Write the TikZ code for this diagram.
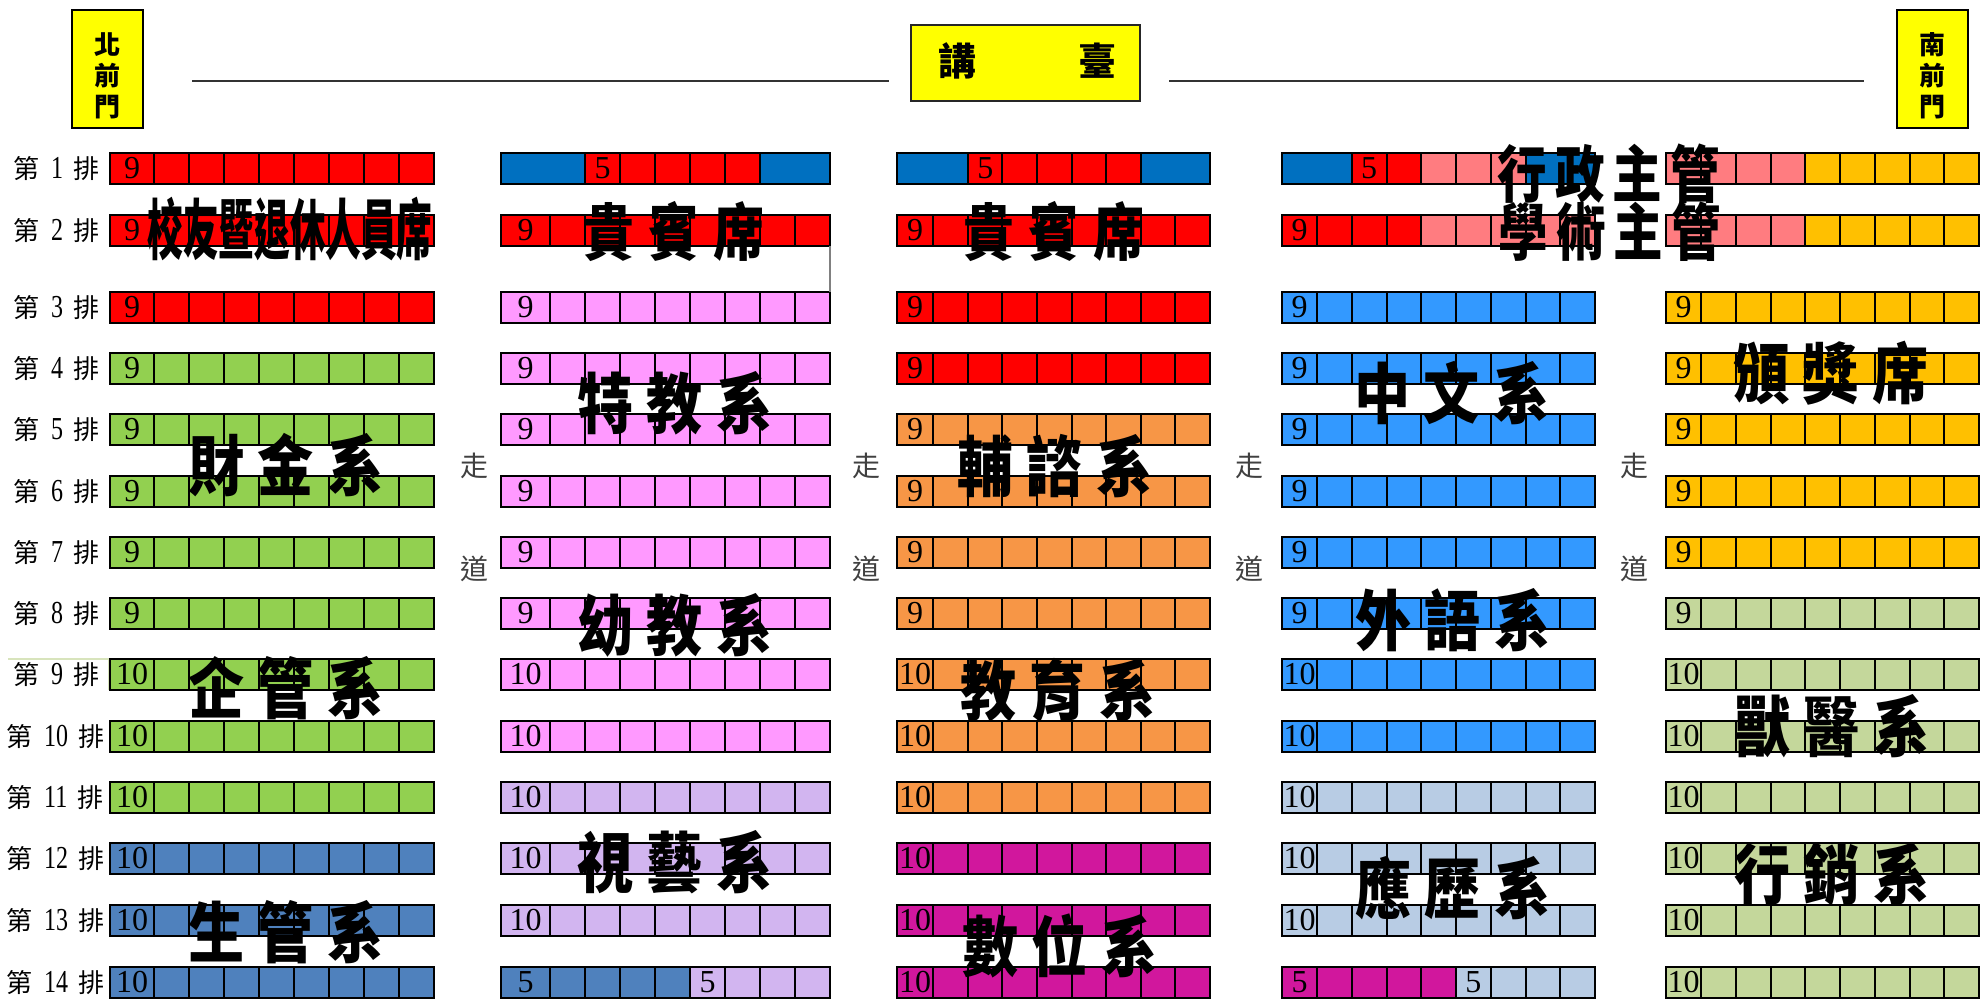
\documentclass[tikz,border=0pt]{standalone}
\usepackage{fontspec}
\usepackage{graphicx}
\setmainfont{Liberation Serif}
\newfontfamily\cjk{Noto Sans CJK TC}
\definecolor{cRed}{HTML}{FF0000}
\definecolor{cBlue}{HTML}{0070C0}
\definecolor{cGreen}{HTML}{92D050}
\definecolor{cPink}{HTML}{FF99FF}
\definecolor{cOrange}{HTML}{F79646}
\definecolor{cLBlue}{HTML}{3399FF}
\definecolor{cGold}{HTML}{FFC000}
\definecolor{cOlive}{HTML}{C4D79B}
\definecolor{cLav}{HTML}{D2B5F0}
\definecolor{cSteel}{HTML}{4F81BD}
\definecolor{cMag}{HTML}{D1179D}
\definecolor{cPale}{HTML}{B8CCE4}
\definecolor{cSalmon}{HTML}{FF7C80}
\definecolor{cYellow}{HTML}{FFFF00}
\definecolor{cArt}{HTML}{D8E4BC}
\tikzset{
 rowframe/.style={draw=black, line width=2.6pt, fill=none, inner sep=0pt, outer sep=0pt},
 divline/.style={draw=black, line width=2pt},
 dig/.style={inner sep=0pt, font=\fontsize{32}{32}\selectfont},
 rowlab/.style={inner sep=0pt, anchor=west, font=\fontsize{26}{26}\selectfont},
 aisle/.style={inner sep=0pt, text=black!75, font=\cjk\fontsize{28}{28}\selectfont},
 bigtext/.style={inner sep=0pt, text=black},
 doorbox/.style={draw=black, line width=2pt, fill=cYellow, minimum width=71, minimum height=118, inner sep=0pt},
 doortxt/.style={inner sep=0pt, align=center, font=\cjk\bfseries\fontsize{26}{31}\selectfont},
 topline/.style={draw=black!80, line width=2pt},
}
\newcommand\bigtxt[3]{\scalebox{#1}[1]{\cjk\bfseries\fontsize{#2}{#2}\selectfont #3}}
\newcommand\threech[3]{#1\hspace{16pt}#2\hspace{16pt}#3}
\newcommand\seatrow[7]{%
  \foreach \cc [count=\i] in {#6} {
    \pgfmathsetmacro\xa{#2+(\i>1)*(#3+(\i-2)*#4)}
    \pgfmathsetmacro\xb{#2+#3+(\i-1)*#4}
    \fill[fill=\cc] (\xa,#5) rectangle (\xb,#5+31);
  }
  \foreach \i in {#7} {
    \pgfmathsetmacro\xb{#2+#3+(\i-1)*#4}
    \draw[divline] (\xb,#5) -- (\xb,#5+31);
  }
  \node[rowframe, minimum width={#3+8*#4}, minimum height=31, anchor=north west] (#1) at (#2,#5) {};
}
\begin{document}
\begin{tikzpicture}[x=1pt,y=-1pt]
\useasboundingbox (0,0) rectangle (1982,1002);
% doors, lectern, lines
\node[doorbox] (north) at (107.5,69) {};
\node[doortxt] (northtxt) at (107.5,76) {北\\前\\門};
\node[doorbox] (south) at (1932,69) {};
\node[doortxt] (southtxt) at (1932,76) {南\\前\\門};
\node[draw=black!85, line width=1.6pt, fill=cYellow, minimum width=229, minimum height=76, inner sep=0pt] (lectern) at (1025.5,63) {};
\node[inner sep=0pt, font=\cjk\bfseries\fontsize{38}{38}\selectfont] (lecterntxt) at (1027,61) {講\hspace{102pt}臺};
\coordinate (la) at (192,81); \coordinate (lb) at (889,81);
\coordinate (lc) at (1169,81); \coordinate (ld) at (1864,81);
\draw[topline] (la) -- (lb);
\draw[topline] (lc) -- (ld);
% row labels
\foreach \r/\y/\x in {1/153/13,2/215/13,3/292/13,4/353/13,5/414/13,6/476/13,7/537/13,8/598/13,9/659/13,10/721/6,11/782/6,12/843/6,13/905/6,14/967/6}
  \node[rowlab] (lab\r) at (\x,\y+15.5) {{\cjk 第}\hspace{12pt}\scalebox{0.75}[1]{\fontsize{32}{32}\selectfont\r}\hspace{10pt}{\cjk 排}};
\draw[cArt, line width=2pt] (8,659) -- (109,659) -- (109,690);
% aisles
\foreach \x [count=\k] in {474,866,1249,1634} {
  \node[aisle] (walk\k) at (\x,466) {走};
  \node[aisle] (way\k) at (\x,569) {道};
}
% block 1
\foreach \r/\y/\cl/\n in {1/153/cRed/9,2/215/cRed/9,3/292/cRed/9,4/353/cGreen/9,5/414/cGreen/9,6/476/cGreen/9,7/537/cGreen/9,8/598/cGreen/9,9/659/cGreen/10,10/721/cGreen/10,11/782/cGreen/10,12/843/cSteel/10,13/905/cSteel/10,14/967/cSteel/10} {
  \seatrow{b1r\r}{110}{44}{35}{\y}{\cl,\cl,\cl,\cl,\cl,\cl,\cl,\cl,\cl}{1,...,8}
  \node[dig] (b1n\r) at (132,\y+15.5) {\n};
}
% block 2
\seatrow{b2r1}{501}{49}{35}{153}{cBlue,cBlue,cRed,cRed,cRed,cRed,cRed,cBlue,cBlue}{2,3,4,5,6,7}
\node[dig] (b2n1) at (602.5,168.5) {5};
\foreach \r/\y/\cl/\n in {2/215/cRed/9,3/292/cPink/9,4/353/cPink/9,5/414/cPink/9,6/476/cPink/9,7/537/cPink/9,8/598/cPink/9,9/659/cPink/10,10/721/cPink/10,11/782/cLav/10,12/843/cLav/10,13/905/cLav/10} {
  \seatrow{b2r\r}{501}{49}{35}{\y}{\cl,\cl,\cl,\cl,\cl,\cl,\cl,\cl,\cl}{1,...,8}
  \node[dig] (b2n\r) at (525.5,\y+15.5) {\n};
}
\seatrow{b2r14}{501}{49}{35}{967}{cSteel,cSteel,cSteel,cSteel,cSteel,cLav,cLav,cLav,cLav}{1,...,8}
\node[dig] (b2n14) at (525.5,982.5) {5};
\node[dig] (b2m14) at (707.5,982.5) {5};
\draw[gray, line width=1.5pt] (b2r2.south east) -- (b2r3.north east);
% block 3
\seatrow{b3r1}{897}{36}{34.625}{153}{cBlue,cBlue,cRed,cRed,cRed,cRed,cRed,cBlue,cBlue}{2,3,4,5,6,7}
\node[dig] (b3n1) at (985.3,168.5) {5};
\foreach \r/\y/\cl/\n in {2/215/cRed/9,3/292/cRed/9,4/353/cRed/9,5/414/cOrange/9,6/476/cOrange/9,7/537/cOrange/9,8/598/cOrange/9,9/659/cOrange/10,10/721/cOrange/10,11/782/cOrange/10,12/843/cMag/10,13/905/cMag/10,14/967/cMag/10} {
  \seatrow{b3r\r}{897}{36}{34.625}{\y}{\cl,\cl,\cl,\cl,\cl,\cl,\cl,\cl,\cl}{1,...,8}
  \node[dig] (b3n\r) at (915,\y+15.5) {\n};
}
% block 4
\seatrow{b4r1}{1282}{35}{34.75}{153}{cBlue,cBlue,cRed,cRed,cSalmon,cSalmon,cSalmon,cBlue,cBlue}{2,3,4,5,6,7}
\node[dig] (b4n1) at (1369.1,168.5) {5};
\seatrow{b4r2}{1282}{35}{34.75}{215}{cRed,cRed,cRed,cRed,cSalmon,cSalmon,cSalmon,cSalmon,cSalmon}{1,...,8}
\node[dig] (b4n2) at (1299.5,230.5) {9};
\foreach \r/\y/\cl/\n in {3/292/cLBlue/9,4/353/cLBlue/9,5/414/cLBlue/9,6/476/cLBlue/9,7/537/cLBlue/9,8/598/cLBlue/9,9/659/cLBlue/10,10/721/cLBlue/10,11/782/cPale/10,12/843/cPale/10,13/905/cPale/10} {
  \seatrow{b4r\r}{1282}{35}{34.75}{\y}{\cl,\cl,\cl,\cl,\cl,\cl,\cl,\cl,\cl}{1,...,8}
  \node[dig] (b4n\r) at (1299.5,\y+15.5) {\n};
}
\seatrow{b4r14}{1282}{35}{34.75}{967}{cMag,cMag,cMag,cMag,cMag,cPale,cPale,cPale,cPale}{1,...,8}
\node[dig] (b4n14) at (1299.5,982.5) {5};
\node[dig] (b4m14) at (1473.4,982.5) {5};
% block 5
\seatrow{b5r1}{1666}{35}{34.75}{153}{cSalmon,cSalmon,cSalmon,cSalmon,cGold,cGold,cGold,cGold,cGold}{1,...,8}
\seatrow{b5r2}{1666}{35}{34.75}{215}{cSalmon,cSalmon,cSalmon,cSalmon,cGold,cGold,cGold,cGold,cGold}{1,...,8}
\foreach \r/\y/\cl/\n in {3/292/cGold/9,4/353/cGold/9,5/414/cGold/9,6/476/cGold/9,7/537/cGold/9,8/598/cOlive/9,9/659/cOlive/10,10/721/cOlive/10,11/782/cOlive/10,12/843/cOlive/10,13/905/cOlive/10,14/967/cOlive/10} {
  \seatrow{b5r\r}{1666}{35}{34.75}{\y}{\cl,\cl,\cl,\cl,\cl,\cl,\cl,\cl,\cl}{1,...,8}
  \node[dig] (b5n\r) at (1683.5,\y+15.5) {\n};
}
% big labels
\node[bigtext] (alumni) at (290,229) {\bigtxt{0.54}{66}{校友暨退休人員席}};
\node[bigtext] (vip1) at (674,231) {\bigtxt{0.82}{62}{貴\hspace{17pt}賓\hspace{17pt}席}};
\node[bigtext] (vip2) at (1054,231) {\bigtxt{0.82}{62}{貴\hspace{17pt}賓\hspace{17pt}席}};
\node[bigtext] (admin) at (1609,174) {\bigtxt{0.8}{62}{行\hspace{10pt}政\hspace{10pt}主\hspace{10pt}管}};
\node[bigtext] (acad) at (1610,232) {\bigtxt{0.8}{62}{學\hspace{10pt}術\hspace{10pt}主\hspace{10pt}管}};
\foreach \nm/\x/\y/\tx in {d1/286/465/財金系, d2/675/403/特教系, d3/1055/466/輔諮系, d4/1452/393/中文系, d5/1831/373/頒獎席, d6/286/688/企管系, d7/675/625/幼教系, d8/1058/690/教育系, d9/1453/620/外語系, d10/1832/726/獸醫系, d11/675/862/視藝系, d12/1453/888/應歷系, d13/1832/874/行銷系, d14/286/932/生管系, d15/1060/946/數位系}
  \node[bigtext] (\nm) at (\x,\y) {\bigtxt{0.85}{66}{\expandafter\threech\tx}};
\end{tikzpicture}
\end{document}
